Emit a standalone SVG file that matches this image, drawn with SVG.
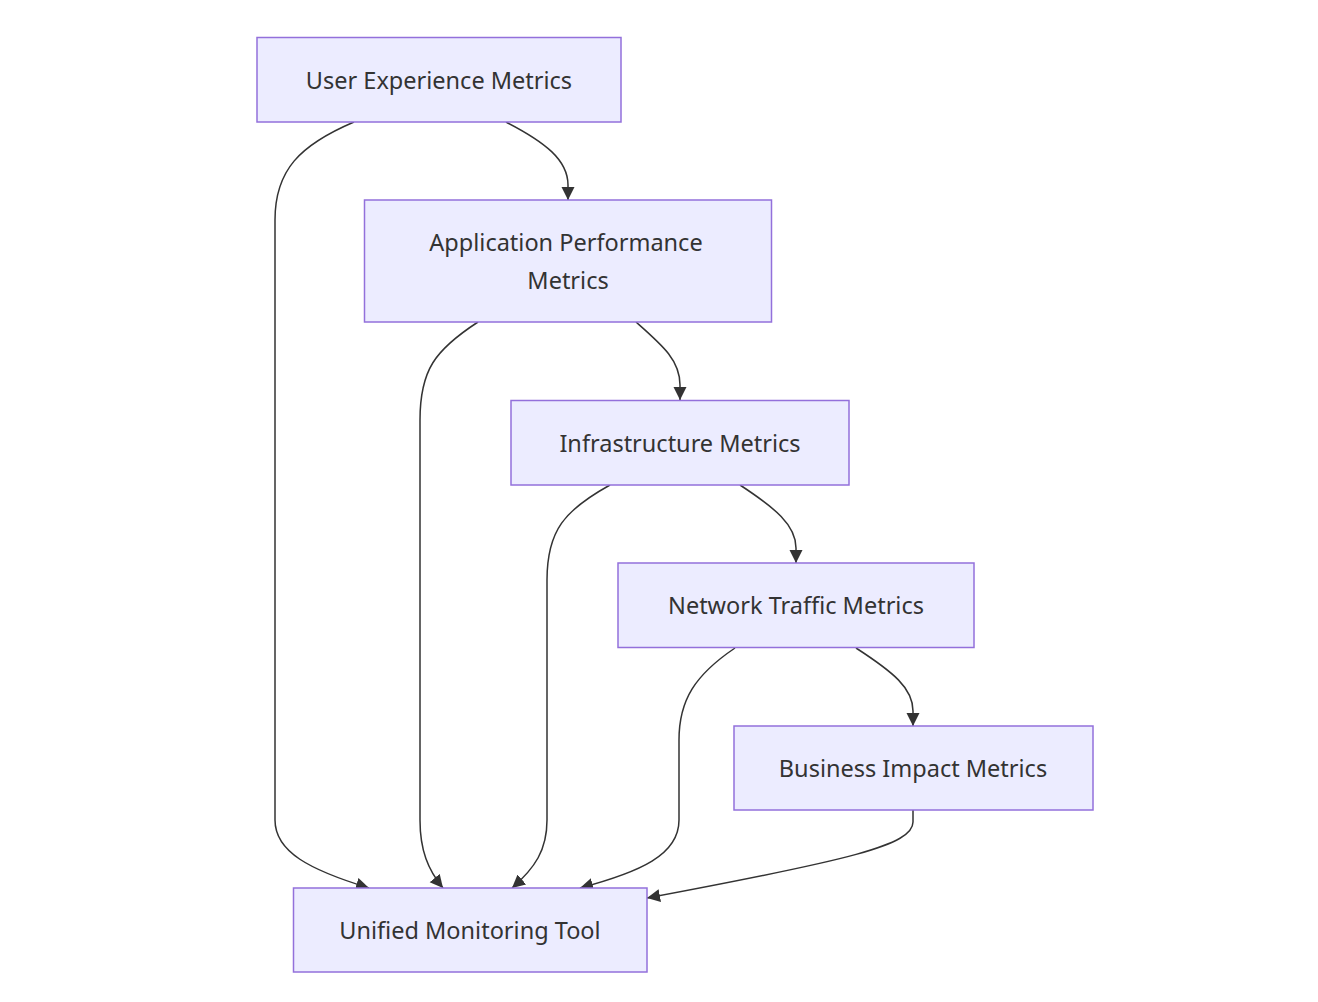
<svg xmlns="http://www.w3.org/2000/svg" width="1318" height="1002" viewBox="0 0 1318 1002">
<style>
.node rect{fill:#ECECFF;stroke:#9370DB;stroke-width:1.5}
.node text{font-family:"Noto Sans","DejaVu Sans",sans-serif;font-size:23.5px;fill:#333;text-anchor:middle;dominant-baseline:central}
.edges path{fill:none;stroke:#333;stroke-width:1.5;marker-end:url(#arr)}
</style>
<defs>
<marker id="arr" markerUnits="userSpaceOnUse" markerWidth="14" markerHeight="14" refX="13" refY="6.5" orient="auto">
<path d="M0,0 L13,6.5 L0,13 z" fill="#333"/>
</marker>
</defs>
<rect width="1318" height="1002" fill="#fff"/>
<g class="edges">
<path d="M506,122 C545,142 568,160 568,185 L568,200"/>
<path d="M354,122 C300,145 275,170 275,220 L275,820 C275,852 310,870 369,888"/>
<path d="M636,322 C662,345 680,360 680,385 L680,400"/>
<path d="M478,322 C435,350 420,370 420,420 L420,820 C420,850 428,870 443,888"/>
<path d="M740,485 C775,508 796,525 796,548 L796,563"/>
<path d="M610,485 C565,510 547,530 547,580 L547,820 C547,850 535,868 512,888"/>
<path d="M856,648 C893,672 913,688 913,711 L913,726"/>
<path d="M735,648 C695,675 679,700 679,740 L679,820 C679,855 640,872 580,888"/>
<path d="M913,810 L913,822 C913,845 850,860 647,898"/>
</g>
<g id="uem" class="node"><rect x="257" y="37.5" width="364" height="84.5"/><text x="439" y="79.5">User Experience Metrics</text></g>
<g id="apm" class="node"><rect x="364.5" y="200" width="407" height="122"/><text x="566" y="242">Application Performance</text><text x="568" y="280">Metrics</text></g>
<g id="im" class="node"><rect x="511" y="400.5" width="338" height="84.5"/><text x="680" y="442.5">Infrastructure Metrics</text></g>
<g id="ntm" class="node"><rect x="618" y="563" width="356" height="84.5"/><text x="796" y="605">Network Traffic Metrics</text></g>
<g id="bim" class="node"><rect x="734" y="726" width="359" height="84"/><text x="913" y="768">Business Impact Metrics</text></g>
<g id="umt" class="node"><rect x="293.5" y="888" width="353.5" height="84"/><text x="470" y="930">Unified Monitoring Tool</text></g>
</svg>
